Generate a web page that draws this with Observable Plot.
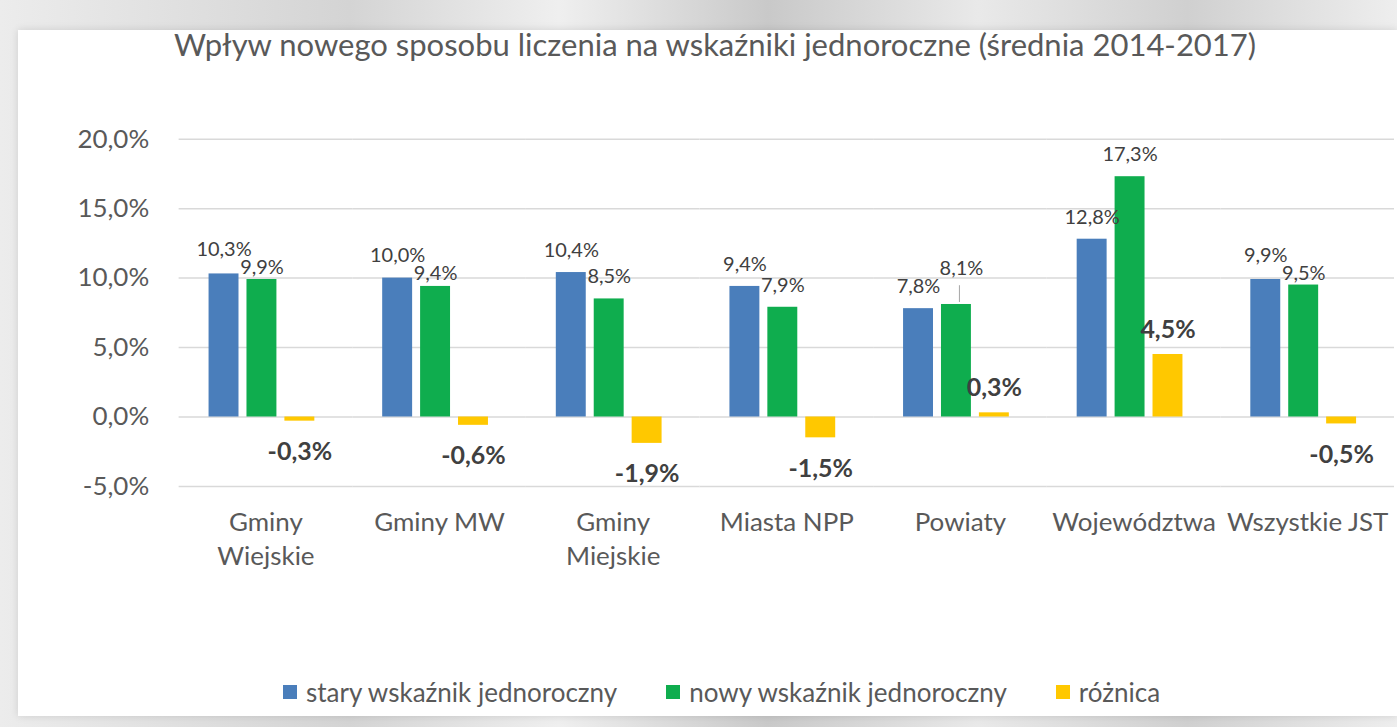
<!DOCTYPE html>
<html lang="pl">
<head>
<meta charset="utf-8">
<script src="https://cdn.jsdelivr.net/npm/d3@7"></script>
<script src="https://cdn.jsdelivr.net/npm/@observablehq/plot@0.6"></script>
<style>
  html, body { margin: 0; padding: 0; }
  body {
    width: 1397px; height: 727px; overflow: hidden; position: relative;
    background: linear-gradient(90deg, #ececec 0%, #d4d4d4 25%, #efefef 40%, #c9c9c9 55%, #e9e9e9 70%, #d0d0d0 85%, #eeeeee 100%);
    font-family: Lato, "Open Sans", sans-serif;
  }
  #panel {
    position: absolute; left: 18px; top: 30px; width: 1379px; height: 686px;
    background: #ffffff; box-shadow: 0 0 8px rgba(0,0,0,0.12);
  }
  #title {
    position: absolute; left: 0; top: 24px; width: 1430px; text-align: center;
    font-size: 31px; color: #595959; line-height: 40px; white-space: nowrap;
  }
  #chart { position: absolute; left: 0; top: 0; }
  #legend {
    position: absolute; left: 283px; top: 676px; display: flex; align-items: center;
    font-size: 26px; color: #595959; white-space: nowrap; line-height: 32px;
  }
  .item { display: flex; align-items: center; margin-right: 49px; }
  .sw { width: 14px; height: 14px; margin-right: 9px; }
</style>
</head>
<body>
<div id="panel"></div>
<div id="title">Wpływ nowego sposobu liczenia na wskaźniki jednoroczne (średnia 2014-2017)</div>
<div id="chart"></div>
<div id="legend"></div>
<script>
const categories = ["Gminy Wiejskie", "Gminy MW", "Gminy Miejskie", "Miasta NPP", "Powiaty", "Województwa", "Wszystkie JST"];
const categoryLines = ["Gminy\nWiejskie", "Gminy MW", "Gminy\nMiejskie", "Miasta NPP", "Powiaty", "Województwa", "Wszystkie JST"];
const series = ["stary wskaźnik jednoroczny", "nowy wskaźnik jednoroczny", "różnica"];
const stary = [10.3, 10.0, 10.4, 9.4, 7.8, 12.8, 9.9];
const nowy = [9.9, 9.4, 8.5, 7.9, 8.1, 17.3, 9.5];
const roznica = [-0.3, -0.6, -1.9, -1.5, 0.3, 4.5, -0.5];
const colors = ["#4a7ebb", "#0fad4e", "#ffc800"];
const yTicks = [-5, 0, 5, 10, 15, 20];

const values = [stary, nowy, roznica];
const table = categories.flatMap((c, i) => series.map((s, j) => ({cat: c, series: s, value: values[j][i]})));
const fmt = v => v.toFixed(1).replace(".", ",") + "%";

// layout
const W = 1400, H = 600, MT = 139, MB = 113;
const yDomain = [-5, 20];
const pxPerUnit = (H - MT - MB) / (yDomain[1] - yDomain[0]);

// label collision avoidance between the two value labels of each category
const minSep = 18 / pxPerUnit;
const labels = [];
const raised = [];
categories.forEach((c, i) => {
  const a = stary[i], b = nowy[i];
  if (Math.abs(a - b) < minSep) {
    if (a >= b) {
      const mid = (a + b) / 2 - 4 / pxPerUnit;
      labels.push({cat: c, series: series[0], value: a, labelY: mid + minSep / 2});
      labels.push({cat: c, series: series[1], value: b, labelY: mid - minSep / 2});
    } else {
      labels.push({cat: c, series: series[0], value: a, labelY: a});
      raised.push({cat: c, series: series[1], value: b, labelY: a + minSep + 0.0});
    }
  } else {
    labels.push({cat: c, series: series[0], value: a, labelY: a});
    labels.push({cat: c, series: series[1], value: b, labelY: b});
  }
});

const diffPos = table.filter(d => d.series === "różnica" && d.value >= 0);
const diffNeg = table.filter(d => d.series === "różnica" && d.value < 0);

const chart = Plot.plot({
  width: W,
  height: H,
  marginTop: MT,
  marginBottom: MB,
  marginLeft: 176,
  marginRight: 0,
  style: {fontFamily: "Lato, 'Open Sans', sans-serif", fontSize: "26px", color: "#595959", background: "transparent", overflow: "visible"},
  fx: {domain: categories, padding: 0, label: null},
  x: {domain: series, paddingInner: 0.22, paddingOuter: 0.875, align: 0.444, axis: null},
  y: {domain: yDomain, label: null},
  color: {domain: series, range: colors},
  marks: [
    Plot.gridY({ticks: yTicks, stroke: "#d9d9d9", strokeOpacity: 1, strokeWidth: 1.5}),
    Plot.axisY({ticks: yTicks, tickSize: 0, tickPadding: 30, tickFormat: fmt, label: null, fontSize: 26}),
    Plot.axisFx({anchor: "bottom", tickSize: 0, tickPadding: 20, label: null, fontSize: 26, lineHeight: 1.31,
      tickFormat: c => categoryLines[categories.indexOf(c)]}),
    Plot.barY(table, {fx: "cat", x: "series", y: "value", fill: "series"}),
    Plot.text(labels, {fx: "cat", x: "series", y: "labelY", text: d => fmt(d.value), dy: -22, fontSize: 20, fill: "#404040"}),
    Plot.ruleX(raised, {fx: "cat", x: "series", y1: d => d.value + 2 / pxPerUnit, y2: d => d.labelY + 5 / pxPerUnit, dx: 3, stroke: "#a6a6a6", strokeWidth: 1}),
    Plot.text(raised, {fx: "cat", x: "series", y: "labelY", text: d => fmt(d.value), dy: -22, dx: 5, fontSize: 20, fill: "#404040"}),
    Plot.text(diffPos, {fx: "cat", x: "series", y: "value", text: d => fmt(d.value), dy: -25, fontSize: 25, fontWeight: "bold", fill: "#404040"}),
    Plot.text(diffNeg, {fx: "cat", x: "series", y: "value", text: d => fmt(d.value), dy: 31, fontSize: 25, fontWeight: "bold", fill: "#404040"})
  ]
});
document.getElementById("chart").appendChild(chart);

const legend = document.getElementById("legend");
series.forEach((s, i) => {
  const item = document.createElement("div");
  item.className = "item";
  const sw = document.createElement("span");
  sw.className = "sw";
  sw.style.background = colors[i];
  const t = document.createElement("span");
  t.textContent = s;
  item.appendChild(sw);
  item.appendChild(t);
  legend.appendChild(item);
});
</script>
</body>
</html>
